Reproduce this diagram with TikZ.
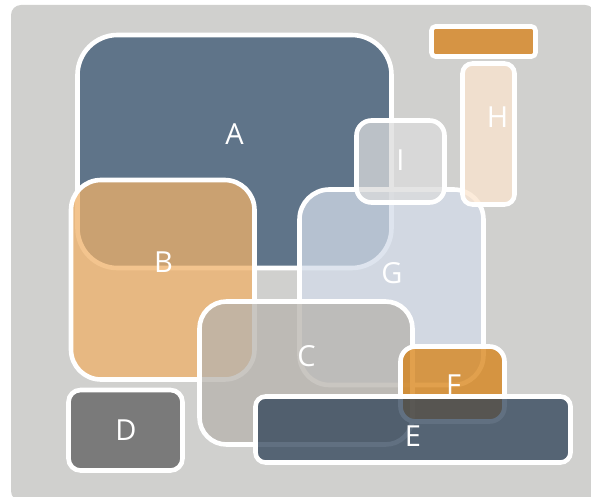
\documentclass[tikz,border=0pt]{standalone}
\usepackage{fontspec}
\setmainfont{Open Sans}
\definecolor{bgc}{RGB}{208,208,206}
\definecolor{cA}{RGB}{95,116,137}
\definecolor{cB}{RGB}{239,177,105}
\definecolor{cG}{RGB}{211,220,233}
\definecolor{cC}{RGB}{183,179,173}
\definecolor{cF}{RGB}{215,129,18}
\definecolor{cE}{RGB}{45,65,87}
\definecolor{cD}{RGB}{122,122,122}
\definecolor{cH}{RGB}{251,229,206}
\definecolor{cI}{RGB}{219,219,220}
\definecolor{cBar}{RGB}{214,148,68}
\begin{document}
\begin{tikzpicture}[x=1pt,y=-1pt,
  box/.style={draw=white, line width=4.6pt, fill opacity=0.75, draw opacity=1, text opacity=1},
  solidbox/.style={draw=white, line width=4.6pt},
  lbl/.style={text=white, inner sep=0pt, font=\fontsize{29}{29}\selectfont}]
\useasboundingbox (0,0) rectangle (591,497);
\fill[white] (0,0) rectangle (591,497);
\fill[bgc, rounded corners=10pt] (11,5) rectangle (595,501);
% A
\filldraw[solidbox, fill=cA, rounded corners=40pt] (77.5,35) rectangle (391.5,268);
\node[lbl] (lA) at (234.5,134.5) {A};
% B
\filldraw[box, fill=cB, rounded corners=30pt] (71,180) rectangle (254.5,379.5);
\node[lbl] (lB) at (163.5,262) {B};
% G
\filldraw[box, fill=cG, rounded corners=30pt] (299.5,189.5) rectangle (483.5,385);
\node[lbl] (lG) at (392,273.5) {G};
% C
\filldraw[box, fill=cC, rounded corners=27pt] (199.5,301.5) rectangle (412.5,444.5);
\node[lbl] (lC) at (306.5,356) {C};
% F
\filldraw[box, fill=cF, rounded corners=15pt] (400.5,346.5) rectangle (504.5,421.5);
\node[lbl] (lF) at (453.5,385) {F};
% E
\filldraw[box, fill=cE, rounded corners=10pt] (255.5,396.5) rectangle (570.5,462.5);
\node[lbl] (lE) at (413,436) {E};
% D
\filldraw[solidbox, fill=cD, rounded corners=12pt] (68.5,390) rectangle (182.5,470.5);
\node[lbl] (lD) at (126,430) {D};
% H
\filldraw[box, fill=cH, rounded corners=10pt] (462.5,63.5) rectangle (514.5,204.5);
\node[lbl] (lH) at (497.5,117) {H};
% I
\filldraw[box, fill=cI, rounded corners=15pt] (356.5,120.5) rectangle (444.5,202.5);
\node[lbl] (lI) at (400.5,160.5) {I};
% top bar
\filldraw[solidbox, fill=cBar, rounded corners=4pt] (431.5,26.5) rectangle (535.5,56.5);
\end{tikzpicture}
\end{document}
